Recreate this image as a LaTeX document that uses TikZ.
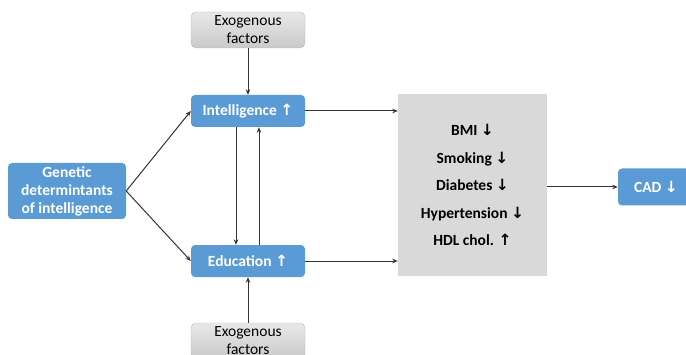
\documentclass[tikz,border=0pt]{standalone}
\usepackage{fontspec}
\setmainfont{Carlito}
\newfontfamily\arrowfont{DejaVu Sans}
\usepackage{xcolor}
\usetikzlibrary{arrows.meta}
\definecolor{officeBlue}{HTML}{5B9BD5}
\definecolor{riskGray}{HTML}{D9D9D9}
\definecolor{lineGray}{HTML}{333333}
\newcommand{\arrup}{{\arrowfont\bfseries\char"2191}}
\newcommand{\arrdn}{{\arrowfont\bfseries\char"2193}}

\begin{document}
\begin{tikzpicture}[x=1pt, y=1pt,
    bluebox/.style={fill=officeBlue, rounded corners=4pt, text=white,
      font=\fontsize{15.5}{18}\selectfont\bfseries, align=center, inner sep=2pt},
    exobox/.style={top color=gray!18, bottom color=gray!42, draw=gray!55,
      rounded corners=5pt, font=\fontsize{15.5}{18}\selectfont, align=center,
      minimum width=114pt, minimum height=36pt, inner sep=1pt},
    link/.style={-{Stealth[length=5.5pt,width=4.5pt]}, lineGray, line width=1pt}]
    \useasboundingbox (0,0) rectangle (686,354);
    \fill[white] (0,0) rectangle (686,354);

    % boxes
    \node[exobox] (exotop) at (248,324) {Exogenous\\factors};
    \node[exobox] (exobot) at (248,13) {Exogenous\\factors};
    \node[bluebox, minimum width=114pt, minimum height=32pt] (intel) at (248,243) {Intelligence \arrup};
    \node[bluebox, minimum width=114pt, minimum height=32pt] (edu) at (248,93) {Education \arrup};
    \node[bluebox, minimum width=118pt, minimum height=56pt] (genetic) at (67,163)
      {Genetic\\determintants\\of intelligence};
    \node[fill=riskGray, minimum width=149pt, minimum height=182pt, align=center,
      font=\fontsize{15.5}{18}\selectfont\bfseries] (risk) at (472.5,169)
      {BMI \arrdn\\[9.5pt] Smoking \arrdn\\[9.5pt] Diabetes \arrdn\\[9.5pt]
       Hypertension \arrdn\\[9.5pt] HDL chol. \arrup};
    \node[bluebox, minimum width=76pt, minimum height=37pt] (cad) at (656,167) {CAD \arrdn};

    % arrows
    \draw[link] (exotop) -- (intel);
    \draw[link] (exobot) -- (edu);
    \draw[link] (genetic.east) -- (intel.west);
    \draw[link] (genetic.east) -- (edu.west);
    \draw[link] ([xshift=-12pt]intel.south) -- ([xshift=-12pt]edu.north);
    \draw[link] ([xshift=11pt]edu.north) -- ([xshift=11pt]intel.south);
    \draw[link] (intel.east) -- (intel.east -| risk.west);
    \draw[link] (edu.east) -- (edu.east -| risk.west);
    \draw[link] (risk.east |- cad.west) -- (cad.west);
\end{tikzpicture}
\end{document}
